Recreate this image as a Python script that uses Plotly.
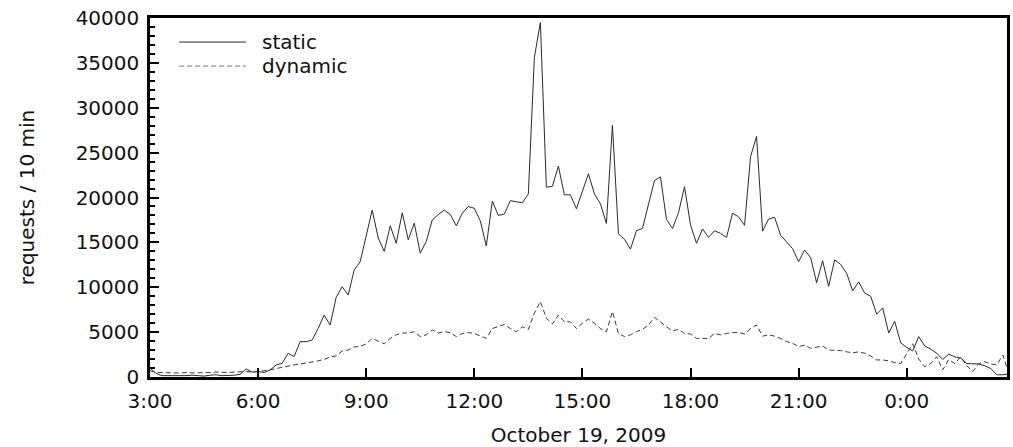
import pandas as pd
import plotly.graph_objects as go

# requests per 10 minutes, from 2009-10-19 03:00, one value per 10 min
static = [
    1000, 400, 150, 150, 150, 100, 150, 200, 150, 100, 200, 250, 150, 150, 200, 300, 900, 550,   # 3:00-5:50
    600, 500, 780, 1340, 1520, 2640, 2270, 3940, 3940, 4120, 5420, 6900, 5790, 8880, 10060, 9140, 11920, 12850,  # 6:00-8:50
    15640, 18600, 15500, 14000, 16850, 14900, 18300, 15300, 17150, 13800, 15100, 17500, 18100, 18600, 18100, 16850, 18250, 19000,  # 9:00-11:50
    18800, 17400, 14600, 19600, 18000, 18150, 19650, 19500, 19400, 20400, 35600, 39500, 21150, 21250, 23500, 20300, 20300, 18750,  # 12:00-14:50
    20650, 22650, 20400, 19300, 17100, 28050, 15950, 15350, 14250, 16300, 16550, 19200, 21900, 22300, 17550, 16550, 18300, 21200,  # 15:00-17:50
    16950, 14900, 16500, 15550, 16300, 16000, 15550, 18250, 17850, 16900, 24550, 26800, 16250, 17600, 17800, 15800, 15050, 14300,  # 18:00-20:50
    12850, 14150, 13300, 10500, 12950, 10100, 13050, 12550, 11550, 9600, 10600, 9350, 9000, 7000, 7700, 4900, 6200, 3800,  # 21:00-23:50
    3300, 2900, 4500, 3450, 3100, 2650, 1950, 2550, 2250, 2100, 1500, 1450, 1450, 1250, 950, 250, 250, 350,  # 0:00-2:50
]
dynamic = [
    700, 500, 500, 450, 450, 450, 500, 450, 450, 500, 500, 550, 500, 500, 550, 600, 600, 550,
    600, 700, 800, 950, 1100, 1250, 1350, 1450, 1550, 1650, 1800, 1950, 2250, 2350, 2900, 3000, 3350, 3400,
    3700, 4300, 4000, 3700, 4300, 4700, 4900, 4900, 5050, 4500, 4700, 5250, 4900, 5050, 4950, 4500, 4850, 4950,
    4850, 4550, 4300, 5400, 5600, 5850, 5400, 5050, 5600, 5300, 7100, 8400, 6550, 5900, 6900, 6150, 6150, 5400,
    6000, 6450, 6000, 5400, 5050, 7300, 4850, 4500, 4700, 5050, 5300, 5800, 6650, 6100, 5600, 5150, 5300, 4850,
    4800, 4300, 4300, 4300, 4850, 4700, 4850, 4950, 4950, 4800, 5400, 5800, 4550, 4700, 4550, 4300, 3950, 3750,
    3400, 3550, 3200, 3300, 3450, 3000, 3000, 2950, 2800, 2700, 2800, 2650, 2350, 1900, 1900, 1800, 1600, 1500,
    2600, 3700, 2000, 1150, 1500, 2250, 800, 1950, 1500, 2250, 1250, 600, 1500, 1700, 1450, 1350, 2450, 400,
]
series_names = ["static", "dynamic"]
tick_labels = ["3:00", "6:00", "9:00", "12:00", "15:00", "18:00", "21:00", "0:00"]
start_time = "2009-10-19 03:00"
end_view = "2009-10-20 02:47"
x_title = "October 19, 2009"
y_title = "requests / 10 min"

times = pd.date_range(start_time, periods=len(static), freq="10min")
tick_vals = pd.date_range(start_time, periods=len(tick_labels), freq="3h")

FONT = "DejaVu Sans, Liberation Sans, Arial, sans-serif"
TXT = "#111111"

fig = go.Figure()
fig.add_trace(go.Scatter(x=times, y=static, mode="lines", name=series_names[0],
                         line=dict(color="#2a2a2a", width=1), showlegend=False))
fig.add_trace(go.Scatter(x=times, y=dynamic, mode="lines", name=series_names[1],
                         line=dict(color="#3a3a3a", width=1, dash="5px,3px"), showlegend=False))

# legend drawn inside the plot, top-left
LX0, LX1, LTX = 0.034, 0.112, 0.128
LY = [0.933, 0.866]
fig.add_shape(type="line", xref="paper", yref="paper", x0=LX0, x1=LX1, y0=LY[0], y1=LY[0],
              line=dict(color="#2a2a2a", width=1))
fig.add_shape(type="line", xref="paper", yref="paper", x0=LX0, x1=LX1, y0=LY[1], y1=LY[1],
              line=dict(color="#777777", width=1, dash="5px,3px"))
for name, yy in zip(series_names, LY):
    fig.add_annotation(text=name, xref="paper", yref="paper", x=LTX, y=yy, xanchor="left",
                       yanchor="middle", showarrow=False, font=dict(family=FONT, size=20, color=TXT))

fig.update_layout(
    width=1013, height=447,
    margin=dict(l=150, r=6, t=18, b=70),
    paper_bgcolor="white", plot_bgcolor="white",
    font=dict(family=FONT, size=20, color=TXT),
    showlegend=False,
)
fig.update_xaxes(
    range=[start_time, end_view], automargin=False,
    tickvals=tick_vals, ticktext=tick_labels,
    ticks="inside", ticklen=9, tickwidth=2, tickcolor="black",
    showline=True, linecolor="black", linewidth=2.5, mirror=True,
    showgrid=False, zeroline=False,
    tickfont=dict(family=FONT, size=20, color=TXT),
    ticklabelstandoff=4,
    title=dict(text=x_title, font=dict(family=FONT, size=20, color=TXT), standoff=18),
)
fig.update_yaxes(
    range=[0, 40000], dtick=5000, tick0=0, tickformat="d", automargin=False,
    ticks="inside", ticklen=9, tickwidth=2, tickcolor="black",
    minor=dict(dtick=1000, ticks="inside", ticklen=5, tickwidth=2, tickcolor="black", showgrid=False),
    showline=True, linecolor="black", linewidth=2.5, mirror=True,
    showgrid=False, zeroline=False,
    tickfont=dict(family=FONT, size=20, color=TXT),
    ticklabelstandoff=4,
    title=dict(text=y_title, font=dict(family=FONT, size=20, color=TXT), standoff=36),
)

fig.write_html("out.html", config={"displayModeBar": False},
               post_script="document.body.style.margin='0';")
